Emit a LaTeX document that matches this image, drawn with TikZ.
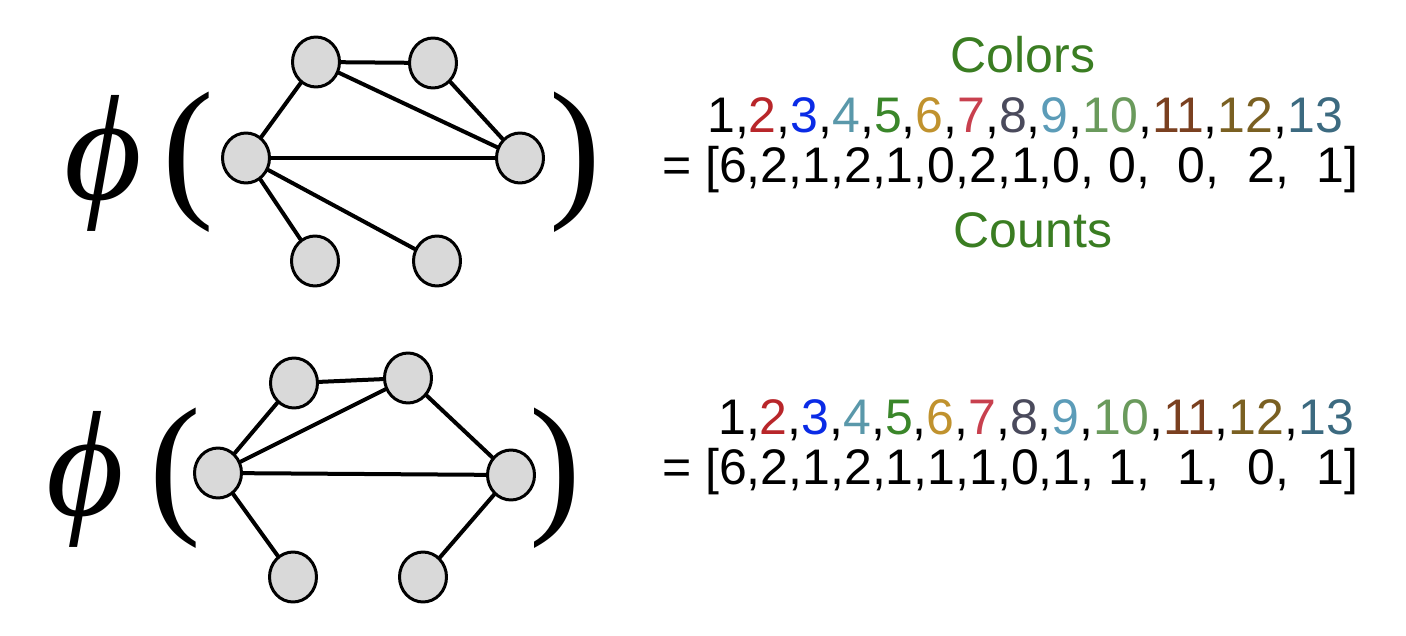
\documentclass[tikz,border=0pt]{standalone}
\usepackage{fontspec}
\newfontfamily\arialfont{Liberation Sans}
\newfontfamily\timesfont{Liberation Serif}
\usetikzlibrary{shapes.geometric}

\definecolor{nodegray}{HTML}{D9D9D9}
\definecolor{labelgreen}{HTML}{3A7D22}
\definecolor{ctwo}{HTML}{B8262A}
\definecolor{cthree}{HTML}{0A2BE6}
\definecolor{cfour}{HTML}{5A98AA}
\definecolor{cfive}{HTML}{3A862A}
\definecolor{csix}{HTML}{C0922E}
\definecolor{cseven}{HTML}{C8404E}
\definecolor{ceight}{HTML}{4A4A5C}
\definecolor{cnine}{HTML}{5C9CB8}
\definecolor{cten}{HTML}{6A9A5C}
\definecolor{celeven}{HTML}{7A4020}
\definecolor{ctwelve}{HTML}{7A6022}
\definecolor{cthirteen}{HTML}{3C6A80}

\newcommand{\colorrow}{1,\textcolor{ctwo}{2},\textcolor{cthree}{3},\textcolor{cfour}{4},%
\textcolor{cfive}{5},\textcolor{csix}{6},\textcolor{cseven}{7},\textcolor{ceight}{8},%
\textcolor{cnine}{9},\textcolor{cten}{10},\textcolor{celeven}{11},\textcolor{ctwelve}{12},%
\textcolor{cthirteen}{13}}

\begin{document}
\begin{tikzpicture}[
  x=1pt,
  y=-1pt,
  line cap=round,
  line join=round,
  vtx/.style={ellipse, draw, line width=3pt, fill=nodegray,
    minimum width=47pt, minimum height=50pt, inner sep=0pt},
  link/.style={line width=4pt},
  phisym/.style={font=\timesfont\itshape\fontsize{150}{150}\selectfont, inner sep=0pt, anchor=base},
  paren/.style={font=\timesfont\fontsize{155}{155}\selectfont, inner sep=0pt, anchor=base},
  vec/.style={font=\arialfont\fontsize{50}{50}\selectfont, inner sep=0pt, anchor=base west},
  lbl/.style={font=\arialfont\fontsize{50}{50}\selectfont, text=labelgreen, inner sep=0pt}
]
  \useasboundingbox (0,0) rectangle (1406,636);

  % Верхний граф
  \node[phisym] (phiA) at (103,200) {ϕ};
  \node[paren] (lpA) at (188,200) {(};
  \node[paren] (rpA) at (575,200) {)};

  \node[vtx] (a1) at (316,62) {};
  \node[vtx] (a2) at (433,63) {};
  \node[vtx] (a3) at (246,158) {};
  \node[vtx] (a4) at (520,158) {};
  \node[vtx] (a5) at (315,261) {};
  \node[vtx] (a6) at (437,261) {};

  \draw[link] (a1)--(a2);
  \draw[link] (a1)--(a3);
  \draw[link] (a1)--(a4);
  \draw[link] (a2)--(a4);
  \draw[link] (a3)--(a4);
  \draw[link] (a3)--(a5);
  \draw[link] (a3)--(a6);

  % Верхний вектор
  \node[lbl] (colorsA) at (1023,55) {Colors};
  \node[vec] (idxA) at (707,133) {\colorrow};
  \node[vec] (cntA) at (662,183) {= [6,2,1,2,1,0,2,1,0, 0,~~0,~~2,~~1]};
  \node[lbl] (countsA) at (1033,230) {Counts};

  % Нижний граф
  \node[phisym] (phiB) at (85,515) {ϕ};
  \node[paren] (lpB) at (175,515) {(};
  \node[paren] (rpB) at (555,515) {)};

  \node[vtx] (b1) at (294,383) {};
  \node[vtx] (b2) at (408,378) {};
  \node[vtx] (b3) at (218,473) {};
  \node[vtx] (b4) at (511,475) {};
  \node[vtx] (b5) at (293,577) {};
  \node[vtx] (b6) at (423,577) {};

  \draw[link] (b1)--(b2);
  \draw[link] (b1)--(b3);
  \draw[link] (b2)--(b3);
  \draw[link] (b2)--(b4);
  \draw[link] (b3)--(b4);
  \draw[link] (b3)--(b5);
  \draw[link] (b4)--(b6);

  % Нижний вектор
  \node[vec] (idxB) at (718,434) {\colorrow};
  \node[vec] (cntB) at (662,484) {= [6,2,1,2,1,1,1,0,1, 1,~~1,~~0,~~1]};
\end{tikzpicture}
\end{document}
